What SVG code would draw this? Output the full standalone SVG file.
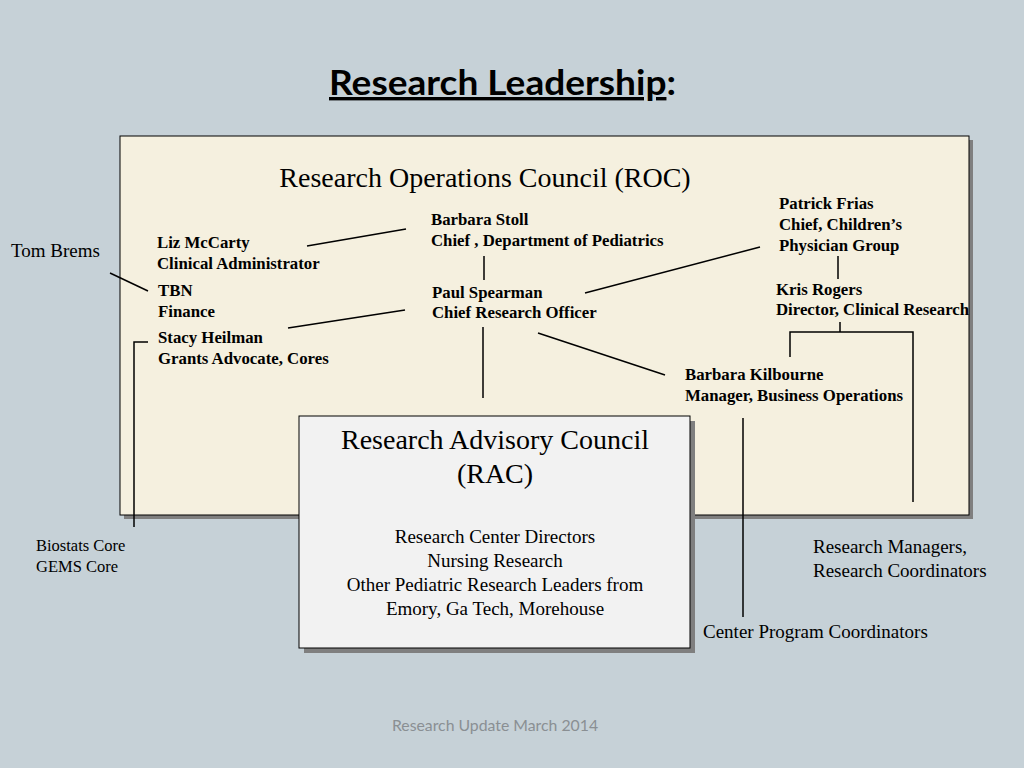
<svg xmlns="http://www.w3.org/2000/svg" width="1024" height="768" viewBox="0 0 1024 768">
<style>
.b{font-family:"Liberation Serif",serif;font-weight:bold;font-size:16.8px;fill:#000}
.r{font-family:"Liberation Serif",serif;font-size:19px;fill:#000}
.l{stroke:#000;stroke-width:1.5;fill:none}
</style>
<rect width="1024" height="768" fill="#c6d1d7"/>
<text x="329" y="95" textLength="347" lengthAdjust="spacingAndGlyphs" font-family="Lato,'Open Sans',sans-serif" font-weight="bold" font-size="34" fill="#000"><tspan text-decoration="underline">Research Leadership</tspan>:</text>
<g id="roc">
<rect x="124" y="140" width="849" height="379" fill="#7f7f7f"/>
<rect x="120" y="136" width="849" height="379" fill="#f5f0df" stroke="#000" stroke-width="1"/>
<text x="485" y="187" text-anchor="middle" font-family="Liberation Serif,serif" font-size="28">Research Operations Council (ROC)</text>
</g>
<g id="liz"><text class="b" x="157" y="248">Liz McCarty</text><text class="b" x="157" y="269">Clinical  Administrator</text></g>
<g id="tbn"><text class="b" x="158" y="296">TBN</text><text class="b" x="158" y="317">Finance</text></g>
<g id="stacy"><text class="b" x="158" y="343">Stacy Heilman</text><text class="b" x="158" y="364">Grants Advocate, Cores</text></g>
<g id="stoll"><text class="b" x="431" y="225">Barbara Stoll</text><text class="b" x="431" y="246">Chief , Department of Pediatrics</text></g>
<g id="spearman"><text class="b" x="432" y="298">Paul Spearman</text><text class="b" x="432" y="318">Chief Research Officer</text></g>
<g id="frias"><text class="b" x="779" y="209">Patrick Frias</text><text class="b" x="779" y="230">Chief, Children’s</text><text class="b" x="779" y="251">Physician Group</text></g>
<g id="kris"><text class="b" x="776" y="295">Kris Rogers</text><text class="b" x="776" y="315">Director, Clinical Research</text></g>
<g id="kilbourne"><text class="b" x="685" y="380">Barbara Kilbourne</text><text class="b" x="685" y="401">Manager, Business Operations</text></g>
<g id="tom"><text class="r" x="11" y="257">Tom Brems</text></g>
<g id="biostats"><text x="36" y="551" font-family="Liberation Serif,serif" font-size="16.5">Biostats Core</text><text x="36" y="572" font-family="Liberation Serif,serif" font-size="16.5">GEMS Core</text></g>
<g id="managers"><text class="r" x="813" y="553">Research Managers,</text><text class="r" x="813" y="577">Research Coordinators</text></g>
<g id="cpc"><text class="r" x="703" y="638">Center Program Coordinators</text></g>
<g id="rac">
<rect x="304" y="421" width="391" height="232" fill="#7f7f7f"/>
<rect x="299" y="416" width="391" height="232" fill="#f2f2f2" stroke="#000" stroke-width="1"/>
<text x="495" y="449" text-anchor="middle" font-family="Liberation Serif,serif" font-size="28">Research Advisory Council</text>
<text x="495" y="483" text-anchor="middle" font-family="Liberation Serif,serif" font-size="28">(RAC)</text>
<text class="r" x="495" y="543" text-anchor="middle" font-size="20">Research Center Directors</text>
<text class="r" x="495" y="567" text-anchor="middle" font-size="20">Nursing Research</text>
<text class="r" x="495" y="591" text-anchor="middle" font-size="20">Other Pediatric Research Leaders from</text>
<text class="r" x="495" y="615" text-anchor="middle" font-size="20">Emory, Ga Tech, Morehouse</text>
</g>
<g id="connectors">
<line class="l" x1="307" y1="246" x2="406" y2="229"/>
<line class="l" x1="484" y1="256" x2="484" y2="280"/>
<line class="l" x1="585" y1="293" x2="760" y2="247"/>
<line class="l" x1="288" y1="328" x2="405" y2="310"/>
<line class="l" x1="483" y1="327" x2="483" y2="398" stroke-width="2"/>
<line class="l" x1="538" y1="333" x2="665" y2="375" stroke-width="2.5"/>
<line class="l" x1="838" y1="256" x2="838" y2="279"/>
<line class="l" x1="110" y1="273" x2="148" y2="291"/>
<polyline class="l" points="148,342 134,342 134,527"/>
<line class="l" x1="743" y1="418" x2="743" y2="617"/>
<line class="l" x1="840" y1="322" x2="840" y2="332"/>
<polyline class="l" points="790,357 790,332 913,332 913,502"/>
</g>
<text x="495" y="731" text-anchor="middle" font-family="Lato,sans-serif" font-size="15.8" fill="#8a8f93">Research Update March 2014</text>
</svg>
